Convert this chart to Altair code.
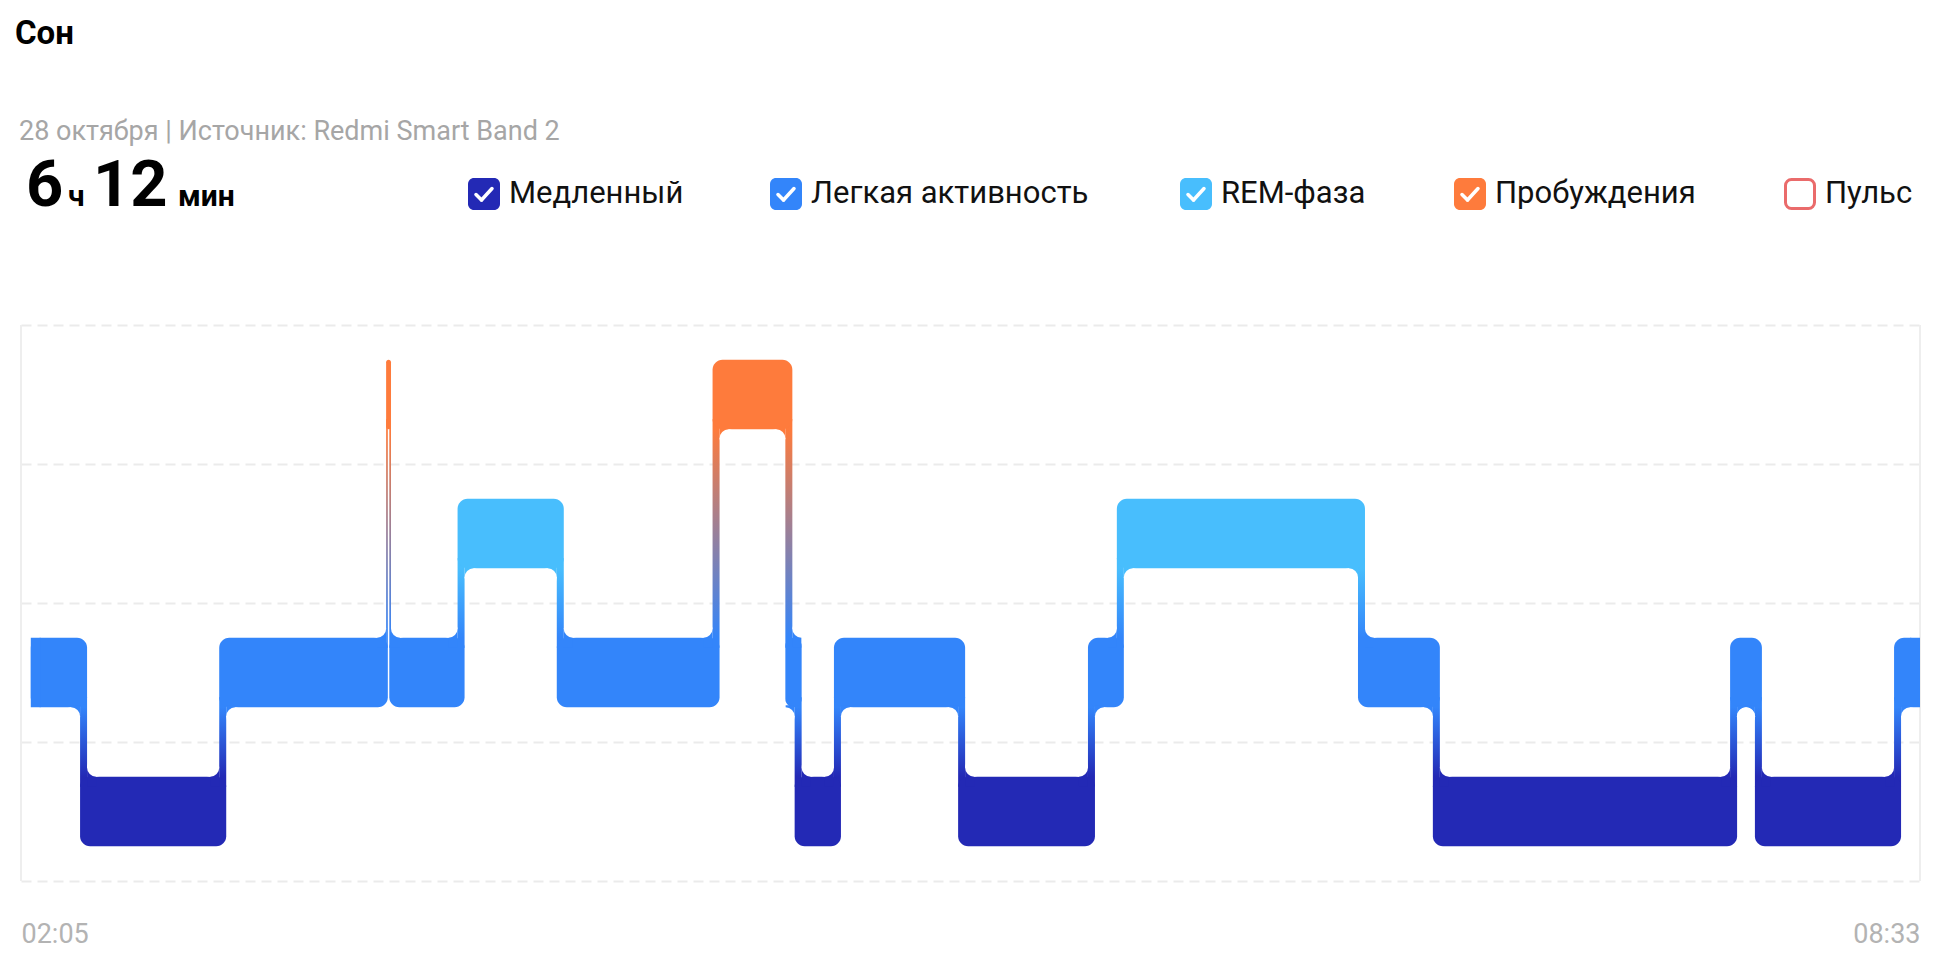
import altair as alt
import pandas as pd

# ---------------- data ----------------
X_MIN, X_MAX = 125, 513          # 02:05 … 08:33, minutes after midnight
stage_names = ["Медленный", "Легкая активность", "REM-фаза", "Пробуждения"]
stage_colors = ["#2329B5", "#3385FA", "#48BEFD", "#FE7B3C"]

# start minute of every stage segment and its stage (0 deep, 1 light, 2 REM, 3 awake)
seg_start = [127.0, 138.5, 165.5, 199.6, 200.6, 214.2, 235.9, 266.3, 282.6, 284.5,
             291.1, 317.9, 343.0, 348.9, 399.6, 414.9, 474.2, 480.7, 507.7]
seg_stage = [1, 0, 1, 3, 1, 2, 1, 3, 1, 0, 1, 0, 1, 2, 1, 0, 1, 0, 1]
sleep_end = 513.0

legend_labels = stage_names + ["Пульс"]
legend_colors = stage_colors + ["#EA6B6B"]
legend_checked = [True, True, True, True, False]

title_text = "Сон"
subtitle_text = "28 октября | Источник: Redmi Smart Band 2"

# ---------------- layout / style ----------------
PLOT_W, PLOT_H = 1899, 556
PAD = {"left": 13, "top": 317, "right": 8, "bottom": 74}
STRIP_PX, RC, RF = 7, 10, 9
LEGEND_X = [463, 765, 1175, 1449, 1779]
LEGEND_Y = -131
FONT = "Roboto"

ppm = PLOT_W / (X_MAX - X_MIN)
ppu = PLOT_H / 4.0

n = len(seg_start)
seg_end = seg_start[1:] + [sleep_end]

# pass 1: strip widths and band extensions
ext_l = [0.0] * n
ext_r = [0.0] * n
trans = []
for i in range(1, n):
    a, b = i - 1, i
    t = seg_start[i]
    up = seg_stage[b] > seg_stage[a]
    hi, lo = max(seg_stage[a], seg_stage[b]), min(seg_stage[a], seg_stage[b])
    h = b if up else a
    h_px = (seg_end[h] - seg_start[h]) * ppm
    w_px = STRIP_PX if h_px >= 8 else 0.35 * h_px
    w = w_px / ppm
    if up:
        ext_r[a] = w
    else:
        ext_l[b] = w
    trans.append(dict(t=t, up=up, hi=hi, lo=lo, h=h, w=w, w_px=w_px))

bands = []
for i in range(n):
    lv = seg_stage[i]
    bands.append(dict(x0=seg_start[i] - ext_l[i], x1=seg_end[i] + ext_r[i],
                      y0=lv + 0.25, y1=lv + 0.75, stage=stage_names[lv]))
caps = [
    dict(x0=seg_start[0], x1=seg_start[0] + RC / ppm, y0=seg_stage[0] + 0.25,
         y1=seg_stage[0] + 0.75, stage=stage_names[seg_stage[0]]),
    dict(x0=seg_end[-1] - RC / ppm, x1=seg_end[-1], y0=seg_stage[-1] + 0.25,
         y1=seg_stage[-1] + 0.75, stage=stage_names[seg_stage[-1]]),
]

strips, squares, circles = [], [], []
du = RC / ppu
rfx, rfy, rcy = RF / ppm, RF / ppu, RC / ppu
for tr in trans:
    t, w, hi, lo, up, h = tr["t"], tr["w"], tr["hi"], tr["lo"], tr["up"], tr["h"]
    sx0, sx1 = (t, t + w) if up else (t - w, t)
    strips.append(dict(x0=sx0, x1=sx1, y0=lo + 0.75 - du, y1=hi + 0.25 + du,
                       pair=f"{lo}{hi}"))
    # outer fillet (on top of the lower band)
    ly = lo + 0.75
    if up:
        qx0, qx1, cx = t - rfx, t, t - rfx
    else:
        qx0, qx1, cx = t, t + rfx, t + rfx
    squares.append(dict(x0=qx0, x1=qx1, y0=ly - rcy, y1=ly + rfy, stage=stage_names[lo]))
    circles.append(dict(x=cx, y=ly + rfy))
    # inner fillet (under the higher band)
    hy = hi + 0.25
    left_edge = seg_start[h] - ext_l[h]
    right_edge = seg_end[h] + ext_r[h]
    if up:
        p = t + w
        space = (right_edge - p) * ppm
        qx0, qx1, cx = p, p + rfx, p + rfx
    else:
        p = t - w
        space = (p - left_edge) * ppm
        qx0, qx1, cx = p - rfx, p, p - rfx
    if space >= RF:
        squares.append(dict(x0=qx0, x1=qx1, y0=hy - rfy, y1=hy + 2 / ppu,
                            stage=stage_names[hi]))
        circles.append(dict(x=cx, y=hy - rfy))

bands_df = pd.DataFrame(bands)
caps_df = pd.DataFrame(caps)
strips_df = pd.DataFrame(strips)
squares_df = pd.DataFrame(squares)
circles_df = pd.DataFrame(circles)
edges_df = pd.DataFrame({"x": [X_MIN, X_MAX]})

# ---------------- encodings ----------------
x_scale = alt.Scale(domain=[X_MIN, X_MAX], nice=False, zero=False)
y_scale = alt.Scale(domain=[0, 4], nice=False, zero=False)
x_axis = alt.Axis(values=[X_MIN, X_MAX],
                  labelExpr="timeFormat(datetime(2000,0,1,0,datum.value),'%H:%M')",
                  grid=False, ticks=False, domain=False, labelFlush=True,
                  labelOverlap=False, labelFontSize=27, labelColor="#b3b3b3",
                  labelFont=FONT, labelPadding=40, labelBaseline="top", title=None)
y_axis = alt.Axis(values=[0, 1, 2, 3, 4], grid=True, gridDash=[10, 6],
                  gridColor="#ebebeb", gridWidth=2, labels=False, ticks=False,
                  domain=False, title=None)
color = alt.Color("stage:N", scale=alt.Scale(domain=stage_names, range=stage_colors),
                  legend=None)


def X(f):
    return alt.X(f, type="quantitative", scale=x_scale, axis=x_axis)


def Y(f):
    return alt.Y(f, type="quantitative", scale=y_scale, axis=y_axis)


layers = []

layers.append(alt.Chart(edges_df).mark_rule(color="#eeeeee", strokeWidth=2).encode(
    x=X("x"), y=alt.YDatum(0, scale=y_scale, axis=y_axis), y2=alt.Y2Datum(4)))

for (lo, hi) in [(0, 1), (1, 2), (1, 3)]:
    sub = strips_df[strips_df["pair"] == f"{lo}{hi}"]
    if len(sub) == 0:
        continue
    span = (hi + 0.25 + du) - (lo + 0.75 - du)
    off = du / span
    grad = alt.LinearGradient(
        gradient="linear", x1=0, x2=0, y1=0, y2=1,
        stops=[alt.GradientStop(offset=0, color=stage_colors[hi]),
               alt.GradientStop(offset=off, color=stage_colors[hi]),
               alt.GradientStop(offset=1 - off, color=stage_colors[lo]),
               alt.GradientStop(offset=1, color=stage_colors[lo])])
    layers.append(alt.Chart(sub).mark_rect(fill=grad).encode(
        x=X("x0"), x2="x1", y=Y("y0"), y2="y1"))

layers.append(alt.Chart(bands_df).mark_rect(cornerRadius=RC).encode(
    x=X("x0"), x2="x1", y=Y("y0"), y2="y1", color=color))
layers.append(alt.Chart(caps_df).mark_rect().encode(
    x=X("x0"), x2="x1", y=Y("y0"), y2="y1", color=color))
layers.append(alt.Chart(squares_df).mark_rect().encode(
    x=X("x0"), x2="x1", y=Y("y0"), y2="y1", color=color))
layers.append(alt.Chart(circles_df).mark_point(
    shape="circle", filled=True, color="white", opacity=1, size=(2 * RF) ** 2,
    strokeWidth=0).encode(x=X("x"), y=Y("y")))

ONE = pd.DataFrame({"k": [0]})


def text(txt, x, y, size, weight="normal", col="#000000", font=FONT,
         baseline="alphabetic", align="left"):
    return alt.Chart(ONE).mark_text(
        text=txt, fontSize=size, fontWeight=weight, color=col, font=font,
        baseline=baseline, align=align).encode(x=alt.value(x), y=alt.value(y))


def seg(x1, y1, x2, y2, col, width):
    return alt.Chart(ONE).mark_rule(color=col, strokeWidth=width, strokeCap="round").encode(
        x=alt.value(x1), y=alt.value(y1), x2=alt.value(x2), y2=alt.value(y2))


layers.append(text(title_text, -6, -281, 33, "bold", "#000000"))
layers.append(text(subtitle_text, -2, -185, 27, "normal", "#a6a6a6"))
layers.append(text("6", 5, -119, 65, "bold"))
layers.append(text("ч", 47, -119, 30, "bold"))
layers.append(text("12", 72, -119, 65, "bold"))
layers.append(text("мин", 157, -119, 30, "bold"))

for lab, col, chk, lx in zip(legend_labels, legend_colors, legend_checked, LEGEND_X):
    if chk:
        box = alt.Chart(ONE).mark_rect(fill=col, cornerRadius=6).encode(
            x=alt.value(lx - 16), x2=alt.value(lx + 16),
            y=alt.value(LEGEND_Y - 16), y2=alt.value(LEGEND_Y + 16))
        layers.append(box)
        layers.append(seg(lx - 8, LEGEND_Y + 0.5, lx - 2.5, LEGEND_Y + 6, "#ffffff", 3.5))
        layers.append(seg(lx - 2.5, LEGEND_Y + 6, lx + 8, LEGEND_Y - 5.5, "#ffffff", 3.5))
    else:
        box = alt.Chart(ONE).mark_rect(fill="#ffffff", stroke=col, strokeWidth=3,
                                       cornerRadius=6).encode(
            x=alt.value(lx - 14.5), x2=alt.value(lx + 14.5),
            y=alt.value(LEGEND_Y - 14.5), y2=alt.value(LEGEND_Y + 14.5))
        layers.append(box)
    layers.append(text(lab, lx + 25, LEGEND_Y, 31, "normal", "#111111",
                       baseline="middle"))

chart = alt.layer(*layers).properties(
    width=PLOT_W, height=PLOT_H, padding=PAD,
    autosize=alt.AutoSizeParams(type="none"),
    background="#ffffff",
).configure_view(stroke=None)

chart.save("out.html", embed_options={"renderer": "svg", "actions": False})
